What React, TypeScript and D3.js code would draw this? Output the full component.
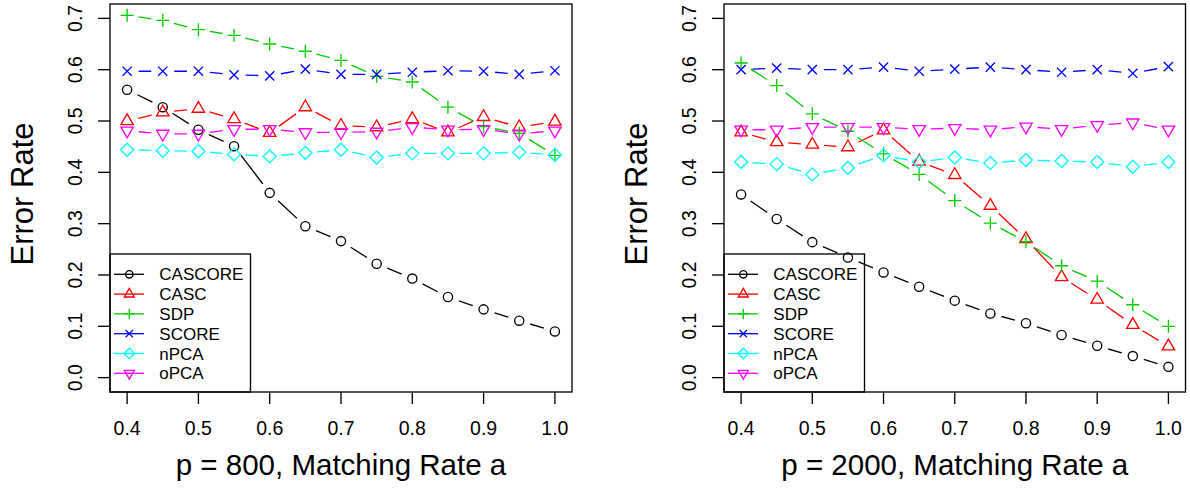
import React from "react";
import * as d3 from "d3";

// ---- data ----
const matchingRate = [0.4, 0.45, 0.5, 0.55, 0.6, 0.65, 0.7, 0.75, 0.8, 0.85, 0.9, 0.95, 1.0];
const methods = ["CASCORE", "CASC", "SDP", "SCORE", "nPCA", "oPCA"];
const methodColors = ["#000000", "#FF0000", "#00CD00", "#0000FF", "#00FFFF", "#FF00FF"];
const methodPch = [1, 2, 3, 4, 5, 6];
const xTicks = [0.4, 0.5, 0.6, 0.7, 0.8, 0.9, 1.0];
const yTicks = [0.0, 0.1, 0.2, 0.3, 0.4, 0.5, 0.6, 0.7];
const panelTitles = ["p = 800, Matching Rate a", "p = 2000, Matching Rate a"];
const yLabel = "Error Rate";

// p = 800
const cascore800 = [0.561, 0.527, 0.483, 0.451, 0.360, 0.295, 0.266, 0.222, 0.193, 0.157, 0.133, 0.111, 0.090];
const casc800 = [0.500, 0.517, 0.524, 0.504, 0.477, 0.527, 0.491, 0.488, 0.504, 0.478, 0.508, 0.488, 0.499];
const sdp800 = [0.706, 0.696, 0.678, 0.667, 0.650, 0.636, 0.618, 0.587, 0.576, 0.527, 0.489, 0.476, 0.433];
const score800 = [0.597, 0.597, 0.597, 0.590, 0.588, 0.601, 0.591, 0.591, 0.595, 0.598, 0.597, 0.591, 0.598];
const npca800 = [0.444, 0.442, 0.441, 0.435, 0.431, 0.438, 0.444, 0.429, 0.437, 0.437, 0.437, 0.439, 0.434];
const opca800 = [0.481, 0.475, 0.475, 0.484, 0.484, 0.478, 0.478, 0.479, 0.488, 0.483, 0.484, 0.475, 0.481];

// p = 2000
const cascore2000 = [0.357, 0.309, 0.264, 0.234, 0.205, 0.177, 0.150, 0.125, 0.106, 0.083, 0.062, 0.042, 0.021];
const casc2000 = [0.478, 0.459, 0.454, 0.449, 0.482, 0.421, 0.395, 0.335, 0.270, 0.196, 0.152, 0.103, 0.061];
const sdp2000 = [0.613, 0.569, 0.514, 0.480, 0.436, 0.396, 0.345, 0.301, 0.265, 0.218, 0.188, 0.142, 0.100];
const score2000 = [0.600, 0.603, 0.600, 0.600, 0.605, 0.597, 0.601, 0.605, 0.600, 0.595, 0.600, 0.593, 0.606];
const npca2000 = [0.420, 0.416, 0.396, 0.409, 0.433, 0.420, 0.429, 0.418, 0.424, 0.422, 0.420, 0.411, 0.420];
const opca2000 = [0.483, 0.483, 0.488, 0.488, 0.488, 0.484, 0.486, 0.483, 0.489, 0.484, 0.492, 0.497, 0.483];

const panelSeries = [
  [cascore800, casc800, sdp800, score800, npca800, opca800],
  [cascore2000, casc2000, sdp2000, score2000, npca2000, opca2000],
];

// ---- layout ----
const W = 1190;
const H = 500;
const FONT = "'Liberation Sans', Arial, Helvetica, sans-serif";
const LW = 1.33;
const panels = [
  { left: 110, right: 572 },
  { left: 724, right: 1185.5 },
];
const plotTop = 4;
const plotBottom = 392;

function Symbol({ pch, x, y, s, color }: { pch: number; x: number; y: number; s: number; color: string }) {
  const common = { fill: "none", stroke: color, strokeWidth: LW };
  const t0 = 1.555 * s;
  const t1 = 1.347 * s;
  const t2 = 0.778 * s;
  const r2 = Math.SQRT2 * s;
  if (pch === 1) return <circle cx={x} cy={y} r={s} {...common} />;
  if (pch === 2)
    return <polygon points={`${x},${y - t0} ${x + t1},${y + t2} ${x - t1},${y + t2}`} {...common} />;
  if (pch === 6)
    return <polygon points={`${x},${y + t0} ${x + t1},${y - t2} ${x - t1},${y - t2}`} {...common} />;
  if (pch === 3)
    return <path d={`M${x - r2},${y}H${x + r2}M${x},${y - r2}V${y + r2}`} {...common} />;
  if (pch === 4)
    return <path d={`M${x - s},${y - s}L${x + s},${y + s}M${x - s},${y + s}L${x + s},${y - s}`} {...common} />;
  if (pch === 5)
    return <polygon points={`${x},${y - r2} ${x + r2},${y} ${x},${y + r2} ${x - r2},${y}`} {...common} />;
  return null;
}

function Panel({ idx }: { idx: number }) {
  const { left, right } = panels[idx];
  const x = d3.scaleLinear().domain([0.376, 1.024]).range([left, right]);
  const y = d3.scaleLinear().domain([-0.028, 0.728]).range([plotBottom, plotTop]);
  const series = panelSeries[idx];
  const gap = 11.5;
  const s = 4.6;
  const cx = (left + right) / 2;
  const cy = (plotTop + plotBottom) / 2;

  const legX = left;
  const legW = 140.5;
  const legTop = 254;
  const legRowY = (i: number) => 274.3 + i * 19.8;

  return (
    <g>
      {series.map((vals, si) => {
        const pts = vals.map((v, i) => [x(matchingRate[i]), y(v)]);
        const segs: string[] = [];
        for (let i = 0; i < pts.length - 1; i++) {
          const [x0, y0] = pts[i];
          const [x1, y1] = pts[i + 1];
          const dx = x1 - x0;
          const dy = y1 - y0;
          const len = Math.hypot(dx, dy);
          if (len <= 2 * gap) continue;
          const ux = dx / len;
          const uy = dy / len;
          segs.push(`M${x0 + ux * gap},${y0 + uy * gap}L${x1 - ux * gap},${y1 - uy * gap}`);
        }
        return (
          <g key={si}>
            <path d={segs.join("")} fill="none" stroke={methodColors[si]} strokeWidth={LW} />
            {pts.map(([px, py], i) => (
              <Symbol key={i} pch={methodPch[si]} x={px} y={py} s={s} color={methodColors[si]} />
            ))}
          </g>
        );
      })}

      <rect x={left} y={plotTop} width={right - left} height={plotBottom - plotTop} fill="none" stroke="#000" strokeWidth={LW} />

      {yTicks.map((t) => (
        <g key={t}>
          <line x1={left - 12} x2={left} y1={y(t)} y2={y(t)} stroke="#000" strokeWidth={LW} />
          <text
            transform={`translate(${left - 28.5},${y(t)}) rotate(-90)`}
            textAnchor="middle"
            fontFamily={FONT}
            fontSize={19.5}
            fill="#000"
          >
            {t.toFixed(1)}
          </text>
        </g>
      ))}
      {xTicks.map((t) => (
        <g key={t}>
          <line x1={x(t)} x2={x(t)} y1={plotBottom} y2={plotBottom + 12} stroke="#000" strokeWidth={LW} />
          <text x={x(t)} y={435} textAnchor="middle" fontFamily={FONT} fontSize={19.5} fill="#000">
            {t.toFixed(1)}
          </text>
        </g>
      ))}

      <text x={cx} y={475} textAnchor="middle" fontFamily={FONT} fontSize={29.5} fill="#000">
        {panelTitles[idx]}
      </text>
      <text
        transform={`translate(${left - 77},${cy - 4}) rotate(-90)`}
        textAnchor="middle"
        fontFamily={FONT}
        fontSize={31}
        fill="#000"
      >
        {yLabel}
      </text>

      <rect x={legX} y={legTop} width={legW} height={plotBottom - legTop} fill="none" stroke="#000" strokeWidth={LW} />
      {methods.map((m, i) => (
        <g key={m}>
          <line x1={legX + 4} x2={legX + 34} y1={legRowY(i)} y2={legRowY(i)} stroke={methodColors[i]} strokeWidth={LW} />
          <Symbol pch={methodPch[i]} x={legX + 19.3} y={legRowY(i)} s={3.7} color={methodColors[i]} />
          <text x={legX + 49.3} y={legRowY(i)} dy="0.36em" fontFamily={FONT} fontSize={17} fill="#000">
            {m}
          </text>
        </g>
      ))}
    </g>
  );
}

export default function App() {
  return (
    <svg
      width={W}
      height={H}
      viewBox={`0 0 ${W} ${H}`}
      style={{ position: "absolute", left: 0, top: 0, background: "#fff" }}
    >
      <rect x={0} y={0} width={W} height={H} fill="#fff" />
      <Panel idx={0} />
      <Panel idx={1} />
    </svg>
  );
}
